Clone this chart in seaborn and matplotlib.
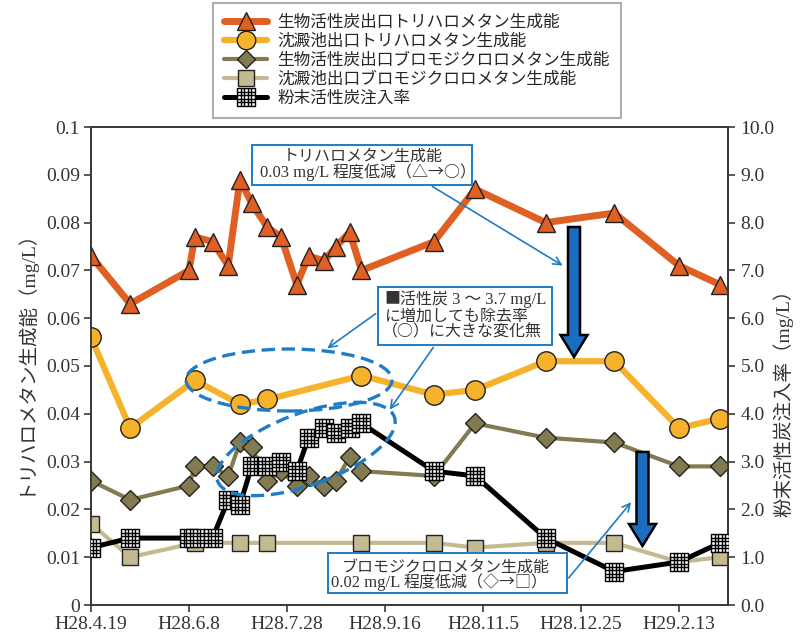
import matplotlib
matplotlib.use("Agg")
import matplotlib.pyplot as plt
import numpy as np
import pandas as pd
import seaborn as sns
from matplotlib.path import Path
from matplotlib.patches import Ellipse, FancyArrow, FancyArrowPatch, Rectangle

sns.set_theme(style="white")
plt.rcParams["font.family"] = ["Liberation Serif", "Noto Sans CJK JP"]
CJK = ["Noto Sans CJK JP", "DejaVu Sans"]
SERIF = ["Liberation Serif", "Noto Sans CJK JP"]

# ---- data -------------------------------------------------------------
# sampling dates for the bio-activated-carbon outlet and PAC dose
bio_dates = ["2016-04-19", "2016-05-09", "2016-06-08", "2016-06-11", "2016-06-20",
             "2016-06-28", "2016-07-04", "2016-07-10", "2016-07-18", "2016-07-25",
             "2016-08-02", "2016-08-08", "2016-08-16", "2016-08-22", "2016-08-29",
             "2016-09-04", "2016-10-11", "2016-11-01", "2016-12-07", "2017-01-11",
             "2017-02-13", "2017-03-06"]
thm_bio = [0.073, 0.063, 0.070, 0.077, 0.076, 0.071, 0.089, 0.084, 0.079, 0.077,
           0.067, 0.073, 0.072, 0.075, 0.078, 0.070, 0.076, 0.087, 0.080, 0.082,
           0.071, 0.067]
bdcm_bio = [0.026, 0.022, 0.025, 0.029, 0.029, 0.027, 0.034, 0.033, 0.026, 0.028,
            0.025, 0.027, 0.025, 0.026, 0.031, 0.028, 0.027, 0.038, 0.035, 0.034,
            0.029, 0.029]
pac_dose = [1.2, 1.4, 1.4, 1.4, 1.4, 2.2, 2.1, 2.9, 2.9, 3.0,
            2.8, 3.5, 3.7, 3.6, 3.7, 3.8, 2.8, 2.7, 1.4, 0.7,
            0.9, 1.3]

# sampling dates for the sedimentation basin outlet
sed_dates = ["2016-04-19", "2016-05-09", "2016-06-11", "2016-07-04", "2016-07-18",
             "2016-09-04", "2016-10-11", "2016-11-01", "2016-12-07", "2017-01-11",
             "2017-02-13", "2017-03-06"]
thm_sed = [0.056, 0.037, 0.047, 0.042, 0.043, 0.048, 0.044, 0.045, 0.051, 0.051,
           0.037, 0.039]
bdcm_sed = [0.017, 0.010, 0.013, 0.013, 0.013, 0.013, 0.013, 0.012, 0.013, 0.013,
            0.009, 0.010]

series_names = ["生物活性炭出口トリハロメタン生成能",
                "沈澱池出口トリハロメタン生成能",
                "生物活性炭出口ブロモジクロロメタン生成能",
                "沈澱池出口ブロモジクロロメタン生成能",
                "粉末活性炭注入率"]

x_tick_dates = ["2016-04-19", "2016-06-08", "2016-07-28", "2016-09-16",
                "2016-11-05", "2016-12-25", "2017-02-13"]
x_tick_labels = ["H28.4.19", "H28.6.8", "H28.7.28", "H28.9.16",
                 "H28.11.5", "H28.12.25", "H29.2.13"]
left_ticks = [0, 0.01, 0.02, 0.03, 0.04, 0.05, 0.06, 0.07, 0.08, 0.09, 0.1]
left_tick_labels = ["0", "0.01", "0.02", "0.03", "0.04", "0.05", "0.06",
                    "0.07", "0.08", "0.09", "0.1"]
right_ticks = [0, 1, 2, 3, 4, 5, 6, 7, 8, 9, 10]
right_tick_labels = ["0.0", "1.0", "2.0", "3.0", "4.0", "5.0", "6.0",
                     "7.0", "8.0", "9.0", "10.0"]

bio = pd.DataFrame({"date": pd.to_datetime(bio_dates), "thm": thm_bio,
                    "bdcm": bdcm_bio, "pac": pac_dose})
sed = pd.DataFrame({"date": pd.to_datetime(sed_dates), "thm": thm_sed,
                    "bdcm": bdcm_sed})

# ---- styling ------------------------------------------------------------
C_ORANGE = "#E05F22"
C_YELLOW = "#F5B22A"
C_OLIVE = "#827A50"
C_TAN = "#C4BA92"
C_BLUE = "#1F7CC6"
C_AXIS = "#3A3A3A"
C_TEXT = "#333333"

# square marker with a fine grid inside (PAC dose)
grid_verts = [(-1, -1), (1, -1), (1, 1), (-1, 1), (-1, -1)]
grid_codes = [Path.MOVETO, Path.LINETO, Path.LINETO, Path.LINETO, Path.CLOSEPOLY]
for g in (-0.6, -0.2, 0.2, 0.6):
    grid_verts += [(g, -1), (g, 1), (-1, g), (1, g)]
    grid_codes += [Path.MOVETO, Path.LINETO, Path.MOVETO, Path.LINETO]
GRID_MARKER = Path(grid_verts, grid_codes)

W, H = 800, 639
fig = plt.figure(figsize=(W / 100, H / 100), dpi=100)
ax = fig.add_axes([91 / W, 1 - 605 / H, 637 / W, 478 / H])
ax2 = ax.twinx()

common = dict(estimator=None, sort=False, legend=False)
sns.lineplot(data=bio, x="date", y="thm", ax=ax, color=C_ORANGE, lw=5,
             marker="^", ms=13.5, mfc=C_ORANGE, mec="#222222", mew=1.0, zorder=3, **common)
sns.lineplot(data=sed, x="date", y="thm", ax=ax, color=C_YELLOW, lw=4.5,
             marker="o", ms=14, mfc=C_YELLOW, mec="#222222", mew=1.0, zorder=3, **common)
sns.lineplot(data=bio, x="date", y="bdcm", ax=ax, color=C_OLIVE, lw=3,
             marker="D", ms=10, mfc=C_OLIVE, mec="#222222", mew=1.0, zorder=3, **common)
sns.lineplot(data=sed, x="date", y="bdcm", ax=ax, color=C_TAN, lw=3,
             marker="s", ms=12, mfc=C_TAN, mec="#222222", mew=1.0, zorder=3, **common)
sns.lineplot(data=bio, x="date", y="pac", ax=ax2, color="black", lw=3.6,
             marker=GRID_MARKER, ms=13, mfc="white", mec="black", mew=1.0, zorder=3, **common)

ax.set_xlim(pd.Timestamp("2016-04-19"), pd.Timestamp("2017-03-10"))
ax.set_ylim(0, 0.1)
ax2.set_ylim(0, 10)
ax.set_xticks(pd.to_datetime(x_tick_dates))
ax.set_xticklabels(x_tick_labels)
ax.set_yticks(left_ticks)
ax.set_yticklabels(left_tick_labels)
ax2.set_yticks(right_ticks)
ax2.set_yticklabels(right_tick_labels)
ax.set_xlabel("")
ax.set_ylabel("")
ax2.set_ylabel("")

for a in (ax, ax2):
    a.grid(False)
    for sp in a.spines.values():
        sp.set_color(C_AXIS)
        sp.set_linewidth(1.3)
    a.tick_params(direction="out", length=5, width=1.2, color=C_AXIS,
                  labelsize=14, labelcolor=C_TEXT)
ax.tick_params(axis="x", bottom=True, pad=3)
ax.tick_params(axis="y", left=True, pad=3)
ax2.tick_params(axis="y", right=True, pad=4)

fig.text(23 / W, 1 - 357 / H, "トリハロメタン生成能（mg/L）", rotation=90,
         ha="center", va="center", fontsize=14, color=C_TEXT)
fig.text(783 / W, 1 - 398 / H, "粉末活性炭注入率（mg/L）", rotation=90,
         ha="center", va="center", fontsize=14, color=C_TEXT)

# legend above the plot area
handles = list(ax.lines[:4]) + list(ax2.lines[:1])
leg = fig.legend(handles, series_names, loc="upper left",
                 bbox_to_anchor=(213 / W, 1 - 3 / H), bbox_transform=fig.transFigure,
                 borderaxespad=0, frameon=True, fancybox=False,
                 handlelength=2.6, handletextpad=0.6, labelspacing=0.12,
                 borderpad=0.65, markerscale=0.95, prop={"family": CJK, "size": 12})
leg.get_frame().set_edgecolor("#9A9A9A")
leg.get_frame().set_linewidth(1.5)


# ---- callouts (positioned in figure pixels, origin top-left) ---------------
def frac(x, y):
    return (x / W, 1 - y / H)


def inch(x, y):
    return (x / 100, (H - y) / 100)


def callout_box(x0, y0, x1, y1):
    fig.add_artist(Rectangle(frac(x0, y1), (x1 - x0) / W, (y1 - y0) / H,
                             transform=fig.transFigure, facecolor="white",
                             edgecolor=C_BLUE, linewidth=1.4, zorder=6))


def callout_line(x, y, parts):
    """Write one line made of (text, family, size) pieces, placed side by side."""
    s, fam, size = parts[0]
    t = fig.text(*frac(x, y), s, ha="left", va="center", fontsize=size,
                 color=C_TEXT, family=fam, zorder=7)
    for s, fam, size in parts[1:]:
        t = fig.add_artist(
            plt.Annotation(s, xy=(1, 0.5), xycoords=t, ha="left", va="center",
                           fontsize=size, color=C_TEXT, family=fam, zorder=7,
                           annotation_clip=False))


def thin_arrow(x0, y0, x1, y1):
    fig.add_artist(FancyArrowPatch(frac(x0, y0), frac(x1, y1),
                                   transform=fig.transFigure, arrowstyle="->",
                                   mutation_scale=14, color=C_BLUE,
                                   linewidth=1.2, zorder=6))


def thick_down_arrow(x, y_top, y_tip):
    fig.add_artist(FancyArrow(*inch(x, y_top), 0, -(y_tip - y_top) / 100,
                              width=0.12, head_width=0.27, head_length=0.22,
                              length_includes_head=True, transform=fig.dpi_scale_trans,
                              facecolor="#1B6DBF", edgecolor="black",
                              linewidth=1.8, zorder=6))


def dashed_ellipse(cx, cy, w, h, angle):
    fig.add_artist(Ellipse(inch(cx, cy), w / 100, h / 100, angle=angle,
                           transform=fig.dpi_scale_trans, fill=False,
                           edgecolor=C_BLUE, linewidth=2.4,
                           linestyle=(0, (4, 2)), zorder=6))


dashed_ellipse(289, 380, 206, 62, 0)
dashed_ellipse(306, 449, 188, 72, 20)

callout_box(252, 145, 472, 185)
callout_line(283, 156, [("トリハロメタン生成能", CJK, 11.5)])
callout_line(260, 173, [("0.03 mg/L ", SERIF, 12), ("程度低減（△→○）", CJK, 11.5)])
thin_arrow(430, 185, 565, 267)

callout_box(378, 287, 552, 345)
callout_line(384, 300, [("■活性炭", CJK, 11.5), (" 3 ～ 3.7 mg/L", SERIF, 12)])
callout_line(384, 316, [("に増加しても除去率", CJK, 11.5)])
callout_line(382, 332, [("（○）に大きな変化無", CJK, 11.5)])
thin_arrow(378, 312, 325, 350)
thin_arrow(435, 345, 388, 412)

callout_box(328, 553, 567, 593)
callout_line(342, 567, [("ブロモジクロロメタン生成能", CJK, 11.5)])
callout_line(331, 583, [("0.02 mg/L ", SERIF, 12), ("程度低減（◇→□）", CJK, 11.5)])
thin_arrow(567, 580, 633, 500)

thick_down_arrow(574, 227, 357)
thick_down_arrow(642.5, 452, 546)

fig.savefig("out.png", dpi=100)
